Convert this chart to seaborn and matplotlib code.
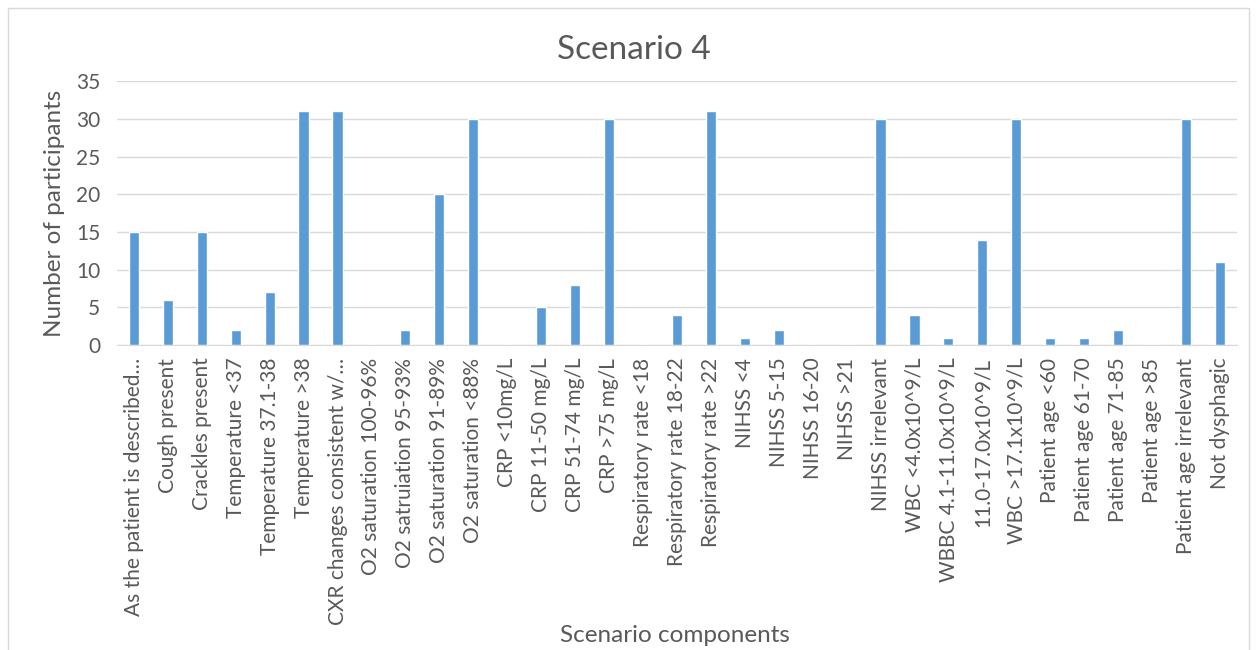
import pandas as pd
import matplotlib.pyplot as plt
import seaborn as sns
from matplotlib.patches import Rectangle

components = ["As the patient is described…", "Cough present", "Crackles present", "Temperature <37",
              "Temperature 37.1-38", "Temperature >38", "CXR changes consistent w/…",
              "O2 saturation 100-96%", "O2 satruiation 95-93%", "O2 saturation 91-89%",
              "O2 saturation <88%", "CRP <10mg/L", "CRP 11-50 mg/L", "CRP 51-74 mg/L",
              "CRP >75 mg/L", "Respiratory rate <18", "Respiratory rate 18-22", "Respiratory rate >22",
              "NIHSS <4", "NIHSS 5-15", "NIHSS 16-20", "NIHSS >21", "NIHSS irrelevant",
              "WBC <4.0x10^9/L", "WBBC 4.1-11.0x10^9/L", "11.0-17.0x10^9/L", "WBC >17.1x10^9/L",
              "Patient age <60", "Patient age 61-70", "Patient age 71-85", "Patient age >85",
              "Patient age irrelevant", "Not dysphagic"]
participants = [15, 6, 15, 2, 7, 31, 31, 0, 2, 20, 30, 0, 5, 8, 30, 0, 4, 31,
                1, 2, 0, 0, 30, 4, 1, 14, 30, 1, 1, 2, 0, 30, 11]
yticks = [0, 5, 10, 15, 20, 25, 30, 35]

df = pd.DataFrame({"component": components, "participants": participants})

sns.set_style("white")
plt.rcParams['font.family'] = ['Lato', 'DejaVu Sans']
txt = "#595959"

fig = plt.figure(figsize=(12.57, 6.5), dpi=100)
ax = fig.add_axes([0.093, 0.469, 0.891, 0.406])

sns.barplot(data=df, x="component", y="participants", color="#5B9BD5", width=0.3,
            saturation=1, ax=ax, zorder=3)

ax.set_ylim(0, 35)
ax.set_yticks(yticks)
ax.yaxis.grid(True, color="#D9D9D9", linewidth=1, zorder=0)
for s in ["top", "right", "left"]:
    ax.spines[s].set_visible(False)
ax.spines["bottom"].set_color("#D9D9D9")
ax.tick_params(axis="both", length=0, colors=txt, labelsize=15)
ax.tick_params(axis="x", pad=9)
ax.tick_params(axis="y", pad=12)
plt.setp(ax.get_xticklabels(), rotation=90)

fig.text(0.504, 0.923, "Scenario 4", fontsize=24, color=txt, ha="center", va="center")
ax.set_ylabel("Number of participants", fontsize=17.5, color=txt, labelpad=8)
ax.set_xlabel("")
fig.text(0.537, 0.022, "Scenario components", fontsize=17.5, color=txt, ha="center", va="center")

# light border around the chart area
fig.patches.append(Rectangle((0.006, -0.01), 0.988, 0.998, transform=fig.transFigure,
                             fill=False, edgecolor="#D9D9D9", linewidth=1))

fig.savefig("out.png", dpi=100)
